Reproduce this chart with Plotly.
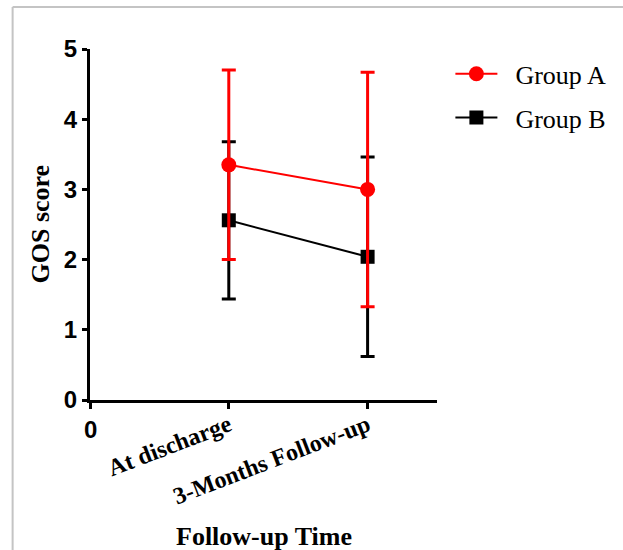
import plotly.graph_objects as go

time_points = ["At discharge", "3-Months Follow-up"]
x_pos = [1, 2]
group_a_mean = [3.35, 3.00]
group_a_sd = [1.35, 1.67]
group_b_mean = [2.56, 2.04]
group_b_sd = [1.12, 1.42]

NB = "\u00a0\u00a0"

fig = go.Figure()
fig.add_trace(go.Scatter(
    x=x_pos, y=group_b_mean, name=NB + "Group B", mode="lines+markers",
    line=dict(color="black", width=2),
    marker=dict(symbol="square", size=14, color="black"),
    error_y=dict(type="data", array=group_b_sd, color="black", thickness=3, width=7),
    legendrank=2, legendgroup="b",
))
fig.add_trace(go.Scatter(
    x=x_pos, y=group_a_mean, name=NB + "Group A", mode="lines+markers",
    line=dict(color="red", width=2),
    marker=dict(symbol="circle", size=15, color="red"),
    error_y=dict(type="data", array=group_a_sd, color="red", thickness=3, width=7),
    legendrank=1, legendgroup="a",
))

fig.update_layout(
    width=623, height=550,
    margin=dict(l=90, r=183, t=49, b=150),
    paper_bgcolor="white", plot_bgcolor="white",
    showlegend=True,
    legend=dict(x=1.0386, y=0.996, xanchor="left", yanchor="top", itemwidth=42,
                font=dict(family="Liberation Serif", size=26, color="black"),
                tracegroupgap=7, bgcolor="rgba(0,0,0,0)"),
    xaxis=dict(range=[0, 2.5], tickvals=[0] + x_pos, ticktext=[""] + time_points,
               tickangle=-21, tickfont=dict(family="Liberation Serif", size=24, color="black", weight="bold"),
               ticklabelstandoff=-7, ticklabelshift=0, automargin=False,
               showline=True, linecolor="black", linewidth=3, ticks="outside",
               ticklen=6, tickwidth=3, tickcolor="black", showgrid=False, zeroline=False),
    yaxis=dict(range=[0, 5], tickvals=[0, 1, 2, 3, 4, 5], automargin=False,
               tickfont=dict(family="Liberation Sans", size=24, color="black", weight="bold"),
               showline=True, linecolor="black", linewidth=3, ticks="outside",
               ticklen=5, tickwidth=3, tickcolor="black", showgrid=False, zeroline=False),
)
fig.add_annotation(x=0, y=-0.085, xref="x", yref="paper", text="<b>0</b>", showarrow=False,
                   font=dict(family="Liberation Sans", size=24, color="black"), yanchor="middle")
fig.add_annotation(x=0.5, y=-0.39, xref="paper", yref="paper", text="<b>Follow-up Time</b>",
                   showarrow=False, font=dict(family="Liberation Serif", size=26, color="black"),
                   xanchor="center", yanchor="middle")
fig.add_annotation(x=-0.143, y=0.501, xref="paper", yref="paper", text="<b>GOS score</b>",
                   showarrow=False, textangle=-90, font=dict(family="Liberation Serif", size=26, color="black"),
                   xanchor="center", yanchor="middle")
# light frame
fig.add_shape(type="line", xref="paper", yref="paper", x0=-0.223, x1=-0.223, y0=1.12, y1=-0.45,
              line=dict(color="#c4c4c4", width=2))
fig.add_shape(type="line", xref="paper", yref="paper", x0=-0.223, x1=1.6, y0=1.12, y1=1.12,
              line=dict(color="#c4c4c4", width=2))
fig.write_html("out.html", config={"displayModeBar": False},
               post_script="document.body.style.margin='0';document.body.style.overflow='hidden';")
